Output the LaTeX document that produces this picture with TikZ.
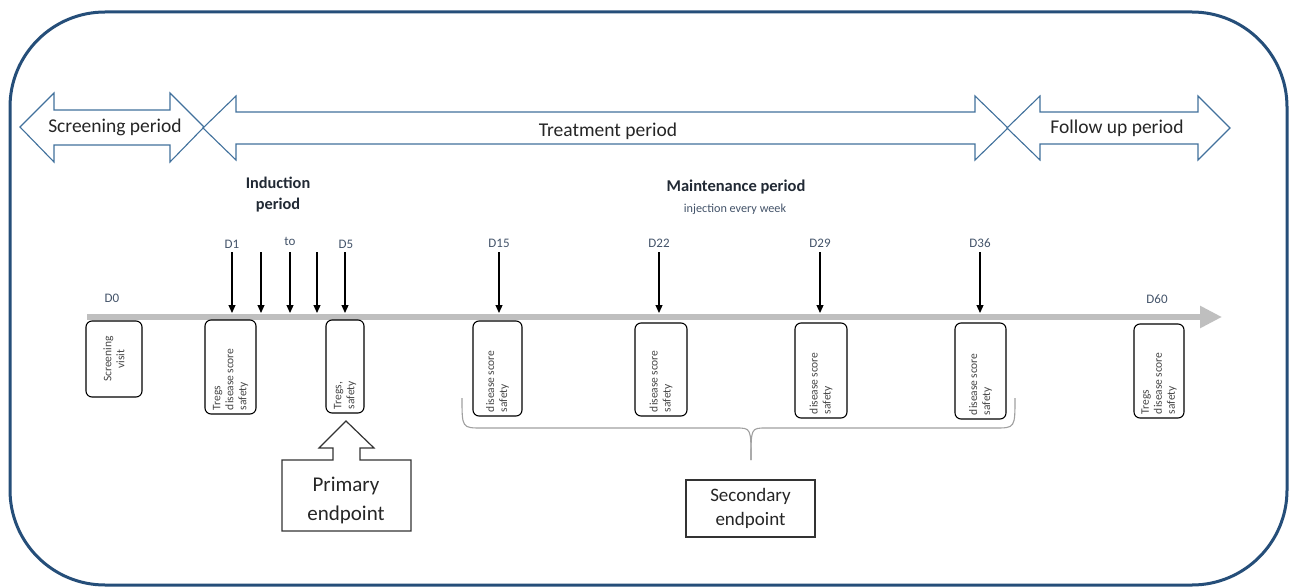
\documentclass[tikz,border=0pt]{standalone}
\usepackage{fontspec}
\setmainfont{Carlito}
\usetikzlibrary{arrows.meta}
\definecolor{frameblue}{RGB}{37,78,121}
\definecolor{arrowblue}{RGB}{65,113,156}
\definecolor{lbl}{RGB}{68,84,106}
\definecolor{headc}{RGB}{34,42,53}
\definecolor{tlgray}{RGB}{191,191,191}
\definecolor{bracegray}{RGB}{160,160,160}
\definecolor{txt}{RGB}{38,38,38}
\newcommand\dsc{disease\hspace{0.17em}score}
\tikzset{
  period/.style={draw=arrowblue, line width=1.1pt, fill=white, line join=miter},
  periodtxt/.style={font=\fontsize{19.5}{22}\selectfont, text=txt},
  daylbl/.style={font=\fontsize{13}{15}\selectfont, text=lbl, inner sep=1pt},
  inj/.style={line width=1.2pt, -{Triangle[length=8pt,width=7pt]}},
  vbox/.style={draw, line width=1.1pt, rounded corners=6pt, rotate=90, inner xsep=4pt, inner ysep=0pt,
    font=\fontsize{11.5}{13}\selectfont, text=txt!85!white, align=left},
  endbox/.style={draw=black!80, line width=1.2pt, text=txt, align=center}
}
\begin{document}
\begin{tikzpicture}[x=1pt,y=-1pt]
\useasboundingbox (0,0) rectangle (1295,588);
\fill[white] (0,0) rectangle (1295,588);
% frame
\node[draw=frameblue, line width=3pt, rounded corners=95pt, minimum width=1277pt, minimum height=573pt, inner sep=0pt] (frame) at (648.5,298.5) {};
% period arrows
\draw[period] (20,127) -- (54,93) -- (54,110) -- (170,110) -- (170,93) -- (204,127) -- (170,162) -- (170,145) -- (54,145) -- (54,162) -- cycle;
\draw[period] (203,128) -- (236,96) -- (236,112) -- (975,112) -- (975,96) -- (1008,128) -- (975,160) -- (975,144) -- (236,144) -- (236,160) -- cycle;
\draw[period] (1007,128) -- (1040,96) -- (1040,112) -- (1198,112) -- (1198,96) -- (1230,128) -- (1198,160) -- (1198,144) -- (1040,144) -- (1040,160) -- cycle;
\node[periodtxt] (scr) at (115,127) {Screening period};
\node[periodtxt] (trt) at (608,131) {Treatment period};
\node[periodtxt] (fol) at (1117,128) {Follow up period};
% headings
\node[font=\bfseries\fontsize{16.3}{21}\selectfont, text=headc, align=center] (ind) at (278,195) {Induction\\period};
\node[font=\bfseries\fontsize{16.5}{18}\selectfont, text=headc] (mnt) at (736,187) {Maintenance period};
\node[font=\fontsize{12.2}{14}\selectfont, text=lbl] (inje) at (735,209) {injection every week};
% timeline
\coordinate (tl0) at (87,317);
\coordinate (tl1) at (1222,317);
\draw[tlgray, line width=6.5pt, -{Triangle[length=22pt,width=21pt]}] (tl0) -- (tl1);
% day labels
\node[daylbl] (d0) at (112,298) {D0};
\node[daylbl] (d1) at (232,244) {D1};
\node[daylbl] (dto) at (290,241) {to};
\node[daylbl] (d5) at (346,244) {D5};
\node[daylbl] (d15) at (499,243) {D15};
\node[daylbl] (d22) at (659,243) {D22};
\node[daylbl] (d29) at (820,243) {D29};
\node[daylbl] (d36) at (980,243) {D36};
\node[daylbl] (d60) at (1157,299) {D60};
% injection arrows
\coordinate (a1s) at (232,252); \coordinate (a1e) at (232,313);
\coordinate (a2s) at (261,252); \coordinate (a2e) at (261,313);
\coordinate (a3s) at (290,252); \coordinate (a3e) at (290,313);
\coordinate (a4s) at (317,252); \coordinate (a4e) at (317,313);
\coordinate (a5s) at (345,252); \coordinate (a5e) at (345,313);
\coordinate (a15s) at (499,252); \coordinate (a15e) at (499,313);
\coordinate (a22s) at (659,252); \coordinate (a22e) at (659,313);
\coordinate (a29s) at (820,252); \coordinate (a29e) at (820,313);
\coordinate (a36s) at (980,252); \coordinate (a36e) at (980,313);
\foreach \a in {1,2,3,4,5,15,22,29,36} {\draw[inj] (a\a s) -- (a\a e);}
% boxes
\node[vbox, align=center, text width=68pt, minimum height=56pt] (bsv) at (114,359) {Screening\\visit};
\node[vbox, text width=86pt, minimum height=51pt] (b1) at (230.5,367) {Tregs\\\dsc\\safety};
\node[vbox, text width=85pt, minimum height=38pt] (b5) at (345,366.5) {Tregs,\\safety};
\node[vbox, text width=87pt, minimum height=49pt] (b15) at (497.5,368.5) {\dsc\\safety};
\node[vbox, text width=85pt, minimum height=52pt] (b22) at (661,369.5) {\dsc\\safety};
\node[vbox, text width=87pt, minimum height=52pt] (b29) at (821,370.5) {\dsc\\safety};
\node[vbox, text width=88pt, minimum height=51pt] (b36) at (980.5,371) {\dsc\\safety};
\node[vbox, text width=86pt, minimum height=50pt] (b60) at (1159,371) {Tregs\\\dsc\\safety};
% primary endpoint callout
\draw[draw=black!80, line width=1.2pt, line join=miter] (282,460) -- (333,460) -- (333,448) -- (319,448) -- (346,421) -- (374,448) -- (360,448) -- (360,460) -- (411,460) -- (411,531) -- (282,531) -- cycle;
\node[text=txt, align=center, font=\fontsize{21}{29}\selectfont] (prim) at (346,500) {Primary\\endpoint};
% secondary endpoint
\node[endbox, minimum width=129pt, minimum height=57pt, font=\fontsize{19}{24.5}\selectfont] (sec) at (750.5,508.5) {Secondary\\endpoint};
% brace
\coordinate (brL) at (462,398);
\coordinate (brR) at (1015,398);
\coordinate (brT) at (751,460);
\draw[bracegray, line width=1.1pt] (brL) .. controls (462,428) .. (482,428) -- (736,428) .. controls (751,428) .. (brT);
\draw[bracegray, line width=1.1pt] (brT) .. controls (751,428) .. (766,428) -- (995,428) .. controls (1015,428) .. (brR);
\end{tikzpicture}
\end{document}
